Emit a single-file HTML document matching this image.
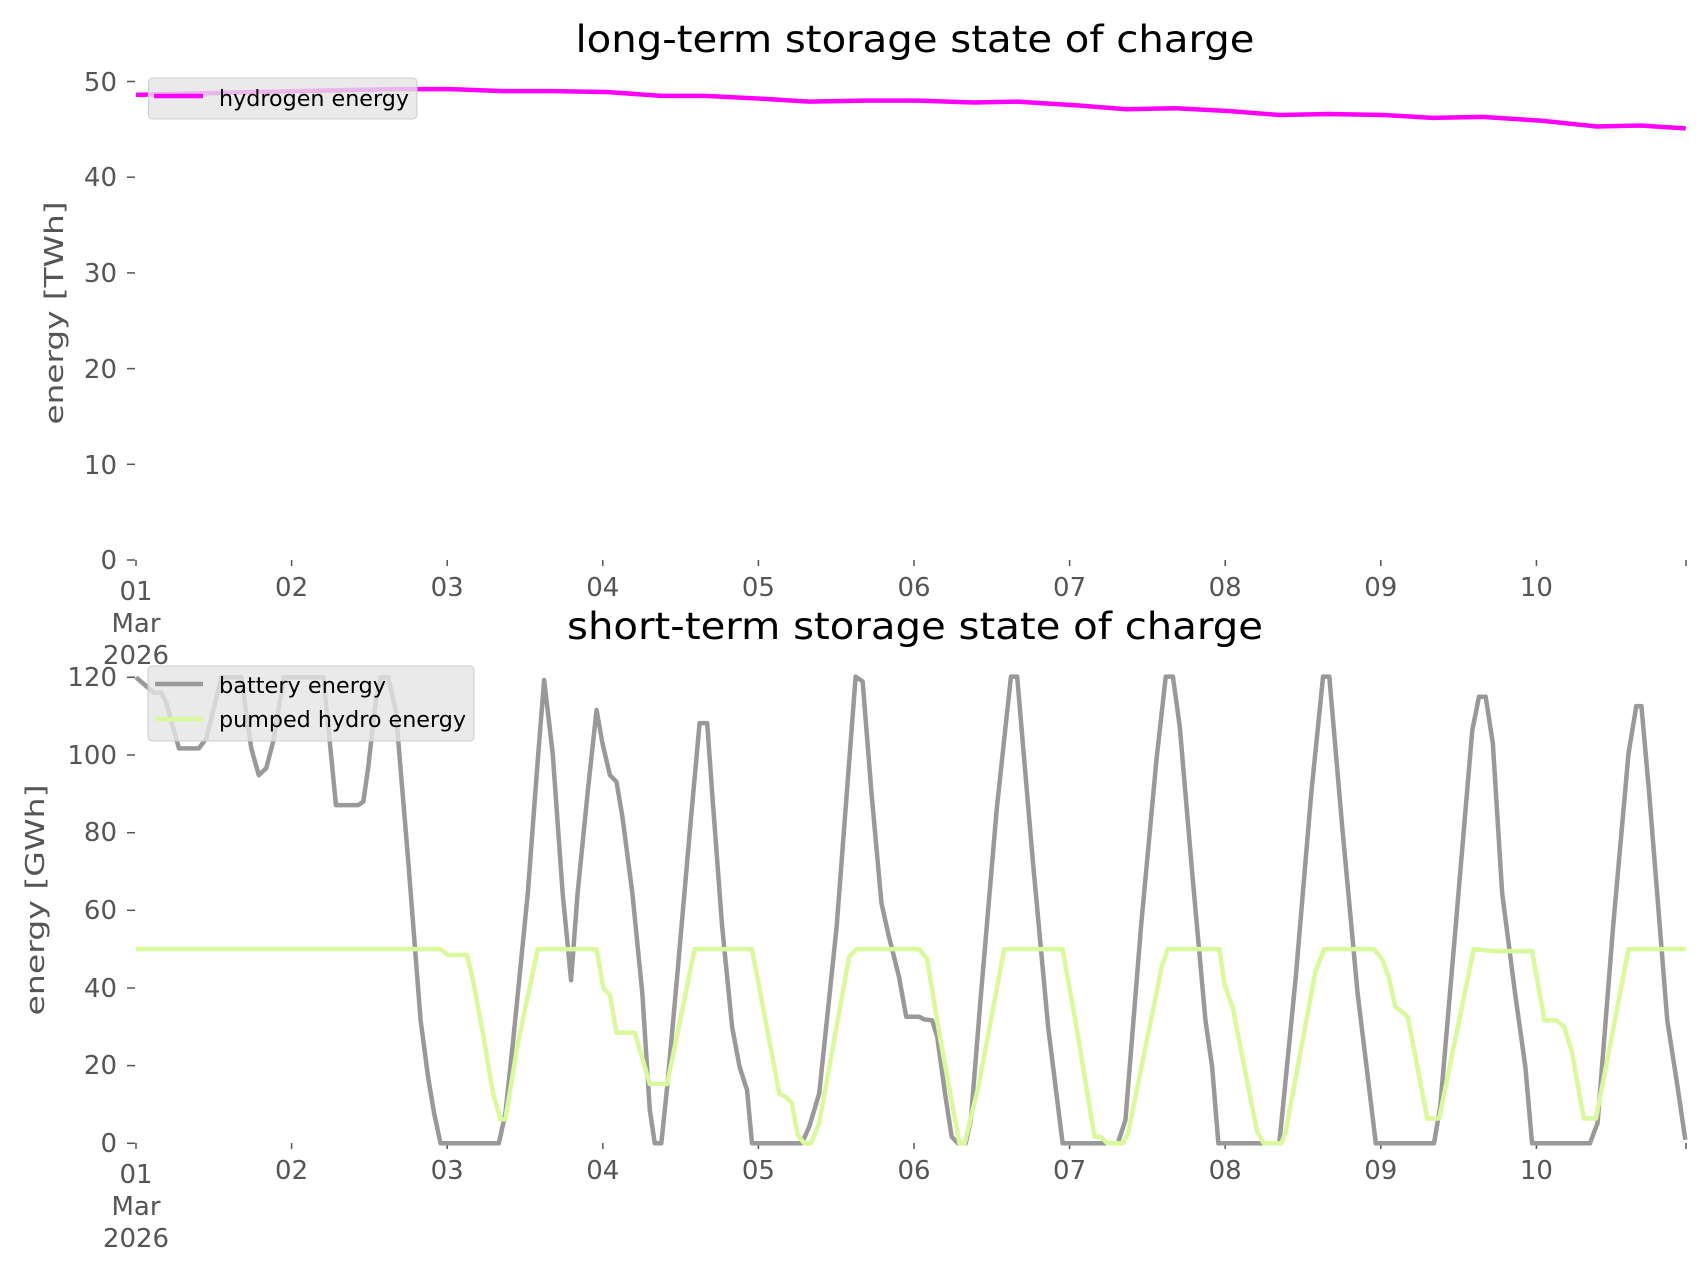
<!DOCTYPE html>
<html><head><meta charset="utf-8"><style>
html,body{margin:0;padding:0;background:#fff;}
svg{display:block;font-family:"DejaVu Sans","Liberation Sans",sans-serif;}
.t{font-size:26px;fill:#555;}
.ln{fill:none;stroke-linejoin:round;vector-effect:non-scaling-stroke;}
</style></head><body>
<svg width="1706" height="1277" viewBox="0 0 1706 1277" xmlns="http://www.w3.org/2000/svg">
<rect width="1706" height="1277" fill="#fff"/>
<text x="915" y="52" font-size="37" text-anchor="middle" fill="#000" textLength="679" lengthAdjust="spacingAndGlyphs">long-term storage state of charge</text>
<text x="915" y="639" font-size="37" text-anchor="middle" fill="#000" textLength="696" lengthAdjust="spacingAndGlyphs">short-term storage state of charge</text>

<g class="t" text-anchor="end">
<text x="117" y="569">0</text><text x="117" y="474">10</text><text x="117" y="378">20</text>
<text x="117" y="282">30</text><text x="117" y="186">40</text><text x="117" y="91">50</text>
</g>
<g stroke="#555" stroke-width="1.5">
<line x1="127" x2="135" y1="560" y2="560"/><line x1="127" x2="135" y1="464.3" y2="464.3"/>
<line x1="127" x2="135" y1="368.6" y2="368.6"/><line x1="127" x2="135" y1="272.9" y2="272.9"/>
<line x1="127" x2="135" y1="177.2" y2="177.2"/><line x1="127" x2="135" y1="81.5" y2="81.5"/>
</g>
<text class="t" transform="translate(63,313) rotate(-90)" text-anchor="middle" font-size="32" textLength="223" lengthAdjust="spacingAndGlyphs">energy [TWh]</text>

<g stroke="#555" stroke-width="1.5">
<line x1="136" x2="136" y1="560" y2="566"/><line x1="291.6" x2="291.6" y1="560" y2="566"/><line x1="447.2" x2="447.2" y1="560" y2="566"/>
<line x1="602.8" x2="602.8" y1="560" y2="566"/><line x1="758.4" x2="758.4" y1="560" y2="566"/><line x1="914" x2="914" y1="560" y2="566"/>
<line x1="1069.6" x2="1069.6" y1="560" y2="566"/><line x1="1225.2" x2="1225.2" y1="560" y2="566"/><line x1="1380.8" x2="1380.8" y1="560" y2="566"/>
<line x1="1536.4" x2="1536.4" y1="560" y2="566"/><line x1="1686" x2="1686" y1="560" y2="566"/>
</g>
<g class="t" text-anchor="middle">
<text x="136" y="600">01</text><text x="136" y="632">Mar</text><text x="136" y="664">2026</text>
<text x="291.6" y="596">02</text><text x="447.2" y="596">03</text><text x="602.8" y="596">04</text><text x="758.4" y="596">05</text>
<text x="914" y="596">06</text><text x="1069.6" y="596">07</text><text x="1225.2" y="596">08</text><text x="1380.8" y="596">09</text><text x="1536.4" y="596">10</text>
</g>

<g transform="matrix(155.6 0 0 -9.57 136 560)">
<polyline class="ln" stroke="#ff00ff" stroke-width="4.5" points="0,48.6 0.5,48.8 1.023,49.0 1.656,49.2 2.02,49.2 2.358,49.0 2.675,49.0 3.026,48.9 3.378,48.5 3.659,48.5 4.025,48.2 4.327,47.9 4.678,48.0 5.03,48.0 5.381,47.8 5.662,47.9 6.049,47.5 6.365,47.1 6.681,47.2 7.033,46.9 7.349,46.5 7.665,46.6 8.017,46.5 8.333,46.2 8.65,46.3 9.036,45.9 9.387,45.3 9.668,45.4 9.96,45.1"/>
</g>
<rect x="148.5" y="78" width="268.5" height="41" rx="4" fill="rgba(229,229,229,0.8)" stroke="#ccc" stroke-width="1"/>
<line x1="154" x2="203" y1="96" y2="96" stroke="#ff00ff" stroke-width="4.5"/>
<text x="219" y="106" font-size="22" fill="#000" textLength="190" lengthAdjust="spacingAndGlyphs">hydrogen energy</text>

<g class="t" text-anchor="end">
<text x="117" y="1152">0</text><text x="117" y="1074">20</text><text x="117" y="997">40</text>
<text x="117" y="919">60</text><text x="117" y="841">80</text><text x="117" y="764">100</text><text x="117" y="686">120</text>
</g>
<g stroke="#555" stroke-width="1.5">
<line x1="127" x2="135" y1="1143.3" y2="1143.3"/><line x1="127" x2="135" y1="1065.6" y2="1065.6"/>
<line x1="127" x2="135" y1="988" y2="988"/><line x1="127" x2="135" y1="910.3" y2="910.3"/>
<line x1="127" x2="135" y1="832.7" y2="832.7"/><line x1="127" x2="135" y1="755" y2="755"/><line x1="127" x2="135" y1="677.3" y2="677.3"/>
</g>
<text class="t" transform="translate(44,900) rotate(-90)" text-anchor="middle" font-size="32" textLength="231" lengthAdjust="spacingAndGlyphs">energy [GWh]</text>

<g stroke="#555" stroke-width="1.5">
<line x1="136" x2="136" y1="1143" y2="1149"/><line x1="291.6" x2="291.6" y1="1143" y2="1149"/><line x1="447.2" x2="447.2" y1="1143" y2="1149"/>
<line x1="602.8" x2="602.8" y1="1143" y2="1149"/><line x1="758.4" x2="758.4" y1="1143" y2="1149"/><line x1="914" x2="914" y1="1143" y2="1149"/>
<line x1="1069.6" x2="1069.6" y1="1143" y2="1149"/><line x1="1225.2" x2="1225.2" y1="1143" y2="1149"/><line x1="1380.8" x2="1380.8" y1="1143" y2="1149"/>
<line x1="1536.4" x2="1536.4" y1="1143" y2="1149"/><line x1="1686" x2="1686" y1="1143" y2="1149"/>
</g>
<g class="t" text-anchor="middle">
<text x="136" y="1183">01</text><text x="136" y="1215">Mar</text><text x="136" y="1247">2026</text>
<text x="291.6" y="1179">02</text><text x="447.2" y="1179">03</text><text x="602.8" y="1179">04</text><text x="758.4" y="1179">05</text>
<text x="914" y="1179">06</text><text x="1069.6" y="1179">07</text><text x="1225.2" y="1179">08</text><text x="1380.8" y="1179">09</text><text x="1536.4" y="1179">10</text>
</g>

<g transform="matrix(155.6 0 0 -3.883 136 1143.3)">
<polyline class="ln" stroke="#999" stroke-width="4.5" points="0,120 0.116,116 0.164,116 0.196,113.3 0.276,101.7 0.404,101.7 0.452,104.3 0.549,120 0.677,120 0.741,101.7 0.789,94.8 0.837,96.6 0.885,104 0.949,120 1.205,120 1.285,87.1 1.429,87.1 1.461,88 1.493,97 1.541,114 1.573,120 1.621,120 1.669,111.6 1.749,73 1.829,31.7 1.877,17.1 1.916,7.7 1.957,0 2.332,0 2.374,7.7 2.422,25.7 2.518,64.4 2.582,98.7 2.623,119.3 2.678,100.4 2.742,64.4 2.796,42 2.838,64.4 2.902,90.1 2.96,111.6 2.998,103 3.046,94.8 3.088,93.1 3.126,84.1 3.19,64.4 3.254,38.6 3.302,8.6 3.334,0 3.376,0 3.414,14.6 3.478,43 3.558,79.8 3.622,108.2 3.671,108.2 3.703,90.1 3.767,55.8 3.831,30 3.879,19.7 3.927,13.7 3.959,0 4.279,0 4.327,4.3 4.391,12.9 4.503,55.8 4.625,120.2 4.67,118.9 4.727,90.1 4.791,61.8 4.839,53.2 4.903,43 4.95,32.6 5.033,32.6 5.066,31.9 5.116,31.7 5.149,27.5 5.199,12.9 5.242,1.7 5.282,0 5.332,0 5.365,6 5.431,38.6 5.531,85.8 5.623,120.2 5.663,120.2 5.763,73 5.862,30 5.955,0 6.31,0 6.359,6 6.459,55.8 6.558,98.7 6.618,120.2 6.664,120.2 6.708,107.3 6.79,68.7 6.873,31.7 6.916,19.7 6.956,0 7.347,0 7.361,5.2 7.454,43 7.553,90.1 7.629,120.2 7.669,120.2 7.752,81.5 7.851,38.6 7.968,0 8.342,0 8.382,9.4 8.481,55.8 8.588,106.4 8.631,115 8.674,115 8.72,103 8.78,64.4 8.863,38.6 8.929,19.7 8.972,0 9.344,0 9.393,5.2 9.493,55.8 9.592,100.4 9.642,112.6 9.675,112.6 9.725,90.1 9.841,31.7 9.907,14.6 9.957,0.9"/>
<polyline class="ln" stroke="#d9f99d" stroke-width="4.5" points="0,50 1.957,50 2.005,48.5 2.127,48.5 2.166,42 2.23,28.3 2.294,12.9 2.342,6.2 2.374,6.2 2.454,25.7 2.582,50 2.96,50 3.004,39.9 3.046,38.2 3.088,28.5 3.206,28.5 3.302,15.3 3.414,15.3 3.59,50 3.959,50 4.135,12.7 4.176,12 4.215,10.3 4.253,2.1 4.295,0 4.337,0 4.391,5.2 4.583,48 4.631,50 5.033,50 5.083,47.6 5.166,27.5 5.292,0 5.325,0 5.414,14.6 5.58,50 5.955,50 6.044,30 6.16,1.7 6.2,1.7 6.243,0 6.343,0 6.376,2.6 6.592,45.5 6.631,50 6.963,50 6.996,40.8 7.049,34.8 7.205,3 7.248,0 7.361,0 7.387,2.6 7.58,44.2 7.636,50 7.958,50 8.01,47.2 8.05,43 8.093,35.2 8.173,32.6 8.299,6.4 8.375,6.4 8.597,50 8.73,49.5 8.972,49.5 9.052,31.7 9.128,31.7 9.178,30 9.228,23.6 9.304,6.4 9.383,6.4 9.592,50 9.96,50"/>
</g>
<rect x="148" y="666" width="326" height="75" rx="4" fill="rgba(229,229,229,0.8)" stroke="#ccc" stroke-width="1"/>
<line x1="155" x2="203" y1="684" y2="684" stroke="#999" stroke-width="4.5"/>
<text x="219" y="693" font-size="22" fill="#000" textLength="167" lengthAdjust="spacingAndGlyphs">battery energy</text>
<line x1="155" x2="203" y1="719" y2="719" stroke="#d9f99d" stroke-width="4.5"/>
<text x="219" y="727" font-size="22" fill="#000" textLength="247" lengthAdjust="spacingAndGlyphs">pumped hydro energy</text>
</svg>
</body></html>
